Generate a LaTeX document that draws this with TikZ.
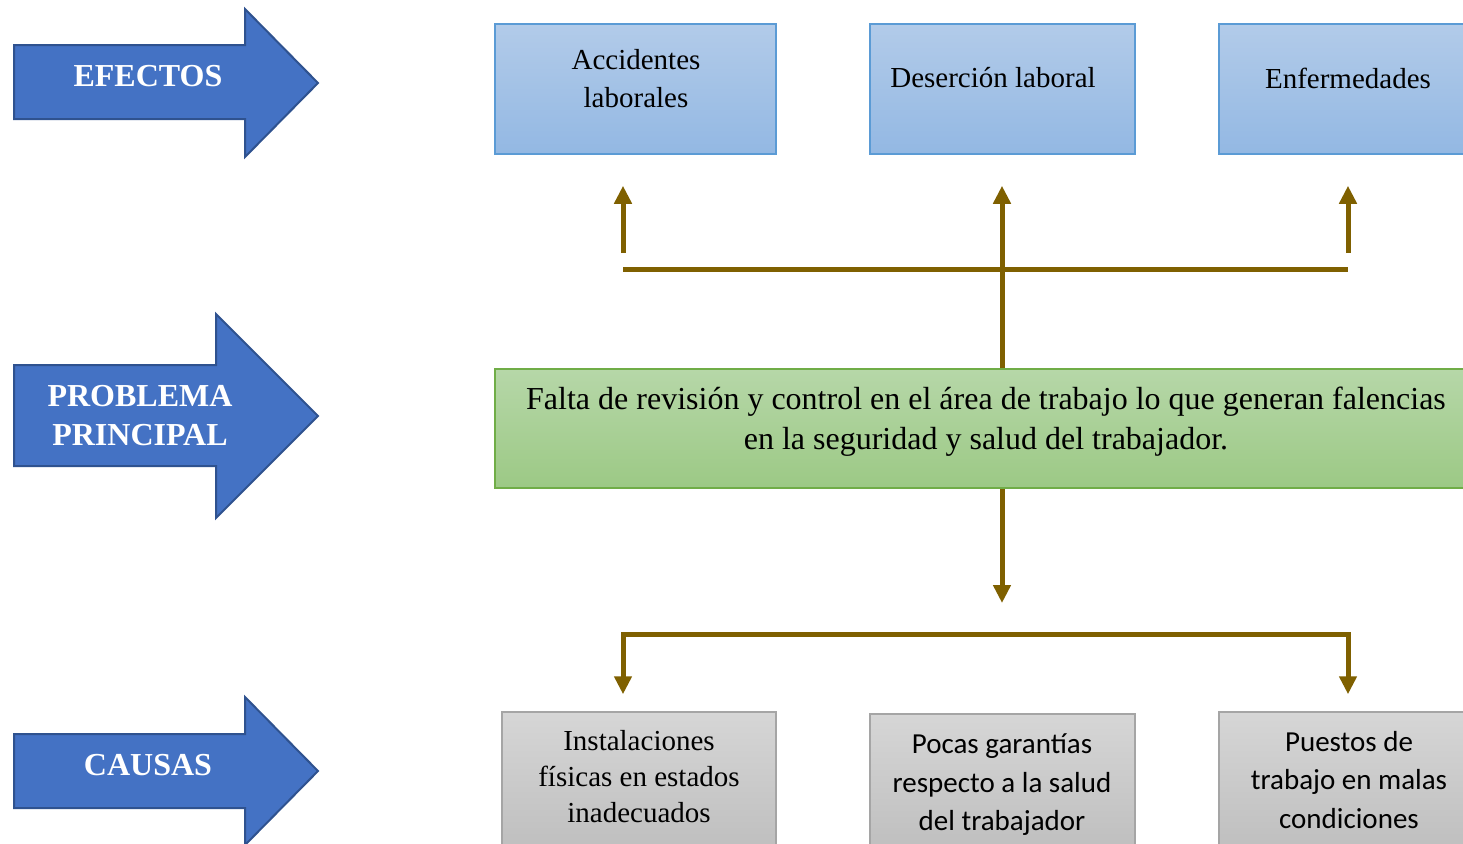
\documentclass[tikz,border=0pt]{standalone}
\usepackage{fontspec}
\setmainfont{Liberation Serif}
\newfontfamily\calibfont{Carlito}
\usetikzlibrary{arrows.meta,calc}
\definecolor{arrbrown}{HTML}{7F6000}
\definecolor{bigblue}{HTML}{4472C4}
\definecolor{bigblueedge}{HTML}{2F528F}
\definecolor{boxbluetop}{HTML}{B2CBE9}
\definecolor{boxbluebot}{HTML}{93B8E3}
\definecolor{boxblueedge}{HTML}{5B9BD5}
\definecolor{boxgreentop}{HTML}{B6D7A8}
\definecolor{boxgreenbot}{HTML}{9CC985}
\definecolor{boxgreenedge}{HTML}{70AD47}
\definecolor{boxgraytop}{HTML}{D6D6D6}
\definecolor{boxgraybot}{HTML}{BDBDBD}
\definecolor{boxgrayedge}{HTML}{A5A5A5}
\tikzset{
  bigarrow/.style={fill=bigblue,draw=bigblueedge,line width=1pt,line join=miter},
  arrowlabel/.style={text=white,font=\bfseries\fontsize{16}{19.5}\selectfont,align=center,inner sep=0pt},
  boxbase/.style={rectangle,line width=0.75pt,inner sep=0pt},
  bluebox/.style={boxbase,draw=boxblueedge,top color=boxbluetop,bottom color=boxbluebot,minimum height=65pt},
  greenbox/.style={boxbase,draw=boxgreenedge,top color=boxgreentop,bottom color=boxgreenbot},
  graybox/.style={boxbase,draw=boxgrayedge,top color=boxgraytop,bottom color=boxgraybot},
  boxtext/.style={font=\fontsize{14.5}{19}\selectfont,align=center,inner sep=0pt,text=black},
  calibtext/.style={font=\calibfont\fontsize{14.5}{19.25}\selectfont,align=center,inner sep=0pt,text=black},
  maintext/.style={font=\fontsize{16}{20}\selectfont,align=center,inner sep=0pt,text=black},
  conn/.style={draw=arrbrown,line width=2.5pt},
  tip/.style={-{Triangle[width=8.5pt,length=9pt]}},
}
\begin{document}
\begin{tikzpicture}[x=0.5pt,y=-0.5pt]
\useasboundingbox (0,0) rectangle (1463,843);

% big blue arrows
\draw[bigarrow] (14,45) -- (245,45) -- (245,9) -- (318,83) -- (245,157) -- (245,119) -- (14,119) -- cycle;
\node[arrowlabel] (efectos) at (148,76) {EFECTOS};
\draw[bigarrow] (14,365) -- (216,365) -- (216,314) -- (318,416) -- (216,518) -- (216,466) -- (14,466) -- cycle;
\node[arrowlabel] (problema) at (140,416) {PROBLEMA\\PRINCIPAL};
\draw[bigarrow] (14,734) -- (245,734) -- (245,697) -- (318,771) -- (245,845) -- (245,808) -- (14,808) -- cycle;
\node[arrowlabel] (causas) at (148,765) {CAUSAS};

% effect boxes
\node[bluebox,minimum width=140.5pt] (acc) at (635.5,89) {};
\node[bluebox,minimum width=132.5pt] (des) at (1002.5,89) {};
\node[bluebox,minimum width=125.5pt] (enf) at (1344.5,89) {};
\node[boxtext] (acct) at (636,79) {Accidentes\\laborales};
\node[boxtext] (dest) at (993,78) {Deserción laboral};
\node[boxtext] (enft) at (1348,78) {Enfermedades};

% main problem
\node[greenbox,minimum width=487.5pt,minimum height=59.5pt] (prob) at (982.5,428.5) {};
\node[maintext] (probt) at (986,422) {Falta de revisión y control en el área de trabajo lo que generan falencias\\en la seguridad y salud del trabajador.};

% cause boxes
\node[graybox,minimum width=137pt,minimum height=74pt] (ins) at (639,786) {};
\node[graybox,minimum width=132.5pt,minimum height=73pt] (poc) at (1002.5,787) {};
\node[graybox,minimum width=125.5pt,minimum height=74pt] (pue) at (1344.5,786) {};
\node[boxtext,font=\fontsize{14.5}{18}\selectfont] (inst) at (639,777) {Instalaciones\\físicas en estados\\inadecuados};
\node[calibtext] (poct) at (1002,785) {Pocas garantías\\respecto a la salud\\del trabajador};
\node[calibtext] (puet) at (1349,780) {Puestos de\\trabajo en malas\\condiciones};

% connectors: effects
\coordinate (tl) at (623,269);
\coordinate (tm) at (1002,269);
\coordinate (tr) at (1348,269);
\coordinate (ul) at (623,253);
\coordinate (ur) at (1348,253);
\draw[conn] (tl) -- (tr);
\draw[conn,tip] (prob.north -| tm) -- ([yshift=-15.5pt]des.south -| tm);
\draw[conn,tip] (ul) -- ([yshift=-15.5pt]acc.south -| ul);
\draw[conn,tip] (ur) -- ([yshift=-15.5pt]enf.south -| ur);

% connectors: causes
\coordinate (bm) at (1002,603);
\coordinate (bl) at (623,634);
\coordinate (br) at (1348,634);
\draw[conn,tip] (prob.south -| bm) -- (bm);
\draw[conn,{Triangle[width=8.5pt,length=9pt]}-{Triangle[width=8.5pt,length=9pt]}]
  ([yshift=8.5pt]ins.north -| bl) -- (bl) -- (br) -- ([yshift=8.5pt]pue.north -| br);
\end{tikzpicture}
\end{document}
